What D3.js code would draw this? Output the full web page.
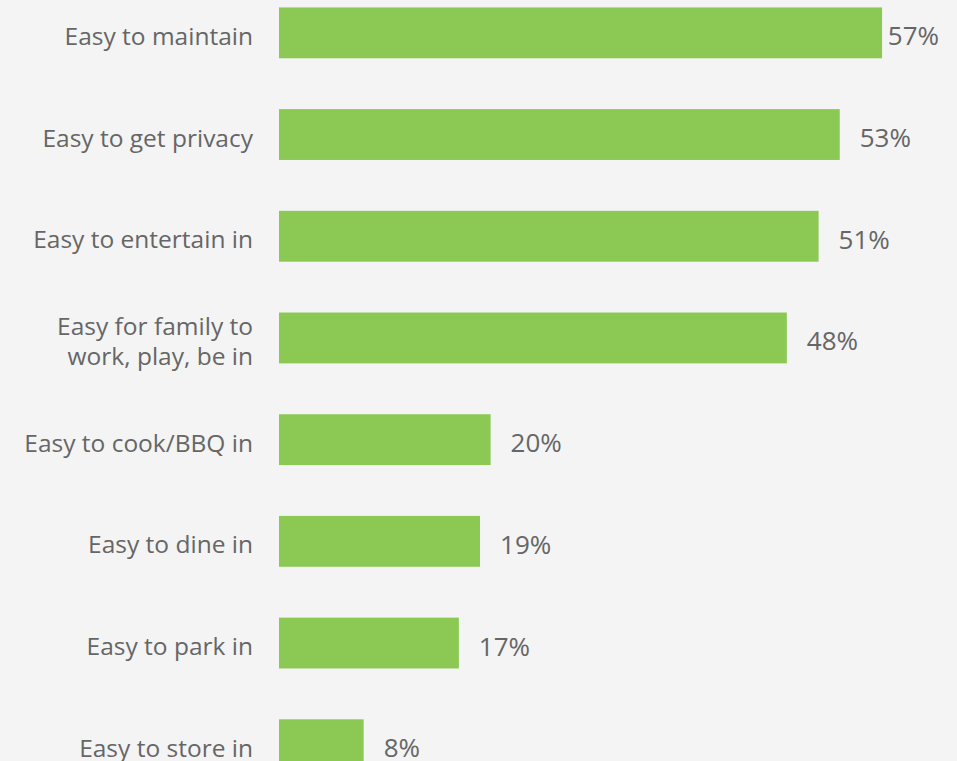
<!DOCTYPE html>
<html>
<head>
<meta charset="utf-8">
<script src="https://cdn.jsdelivr.net/npm/d3@7"></script>
<style>
  html, body { margin: 0; padding: 0; background: #f4f4f4; }
  svg { display: block; }
  text { font-family: "Open Sans", Lato, sans-serif; fill: #666666; }
</style>
</head>
<body>
<svg id="chart" width="957" height="761"></svg>
<script>
// Outdoor space qualities, share of respondents
const categories = [
  "Easy to maintain",
  "Easy to get privacy",
  "Easy to entertain in",
  "Easy for family to\nwork, play, be in",
  "Easy to cook/BBQ in",
  "Easy to dine in",
  "Easy to park in",
  "Easy to store in"
];
const values = [57, 53, 51, 48, 20, 19, 17, 8];

const W = 957, H = 761;
const svg = d3.select("#chart");

const y = d3.scaleBand()
  .domain(categories)
  .range([-18, 795.6])
  .paddingInner(0.5)
  .paddingOuter(0.25);

const x = d3.scaleLinear().domain([0, 100]).range([279, 279 + 1058]);

const data = categories.map((c, i) => ({ c, v: values[i] }));

svg.append("g").selectAll("rect")
  .data(data)
  .join("rect")
  .attr("x", x(0))
  .attr("y", d => y(d.c))
  .attr("width", d => x(d.v) - x(0))
  .attr("height", y.bandwidth())
  .attr("fill", "#8bc954");

// Category labels, right-aligned against the bars
const catG = svg.append("g");
data.forEach(d => {
  const lines = d.c.split("\n");
  const base = y(d.c) + y.bandwidth() / 2 + 12;
  const lh = 30;
  const t = catG.append("text")
    .attr("text-anchor", "end")
    .attr("font-size", 24.5);
  lines.forEach((ln, j) => {
    t.append("tspan")
      .attr("x", 253)
      .attr("y", base + (j - (lines.length - 1) / 2) * lh)
      .text(ln);
  });
});

// Value labels after each bar, kept inside the frame
const valG = svg.append("g");
data.forEach(d => {
  const t = valG.append("text")
    .attr("font-size", 26)
    .attr("y", y(d.c) + y.bandwidth() / 2 + 12.5)
    .text(d.v + "%");
  const w = t.node().getComputedTextLength();
  t.attr("x", Math.min(x(d.v) + 20, 939 - w));
});
</script>
</body>
</html>
